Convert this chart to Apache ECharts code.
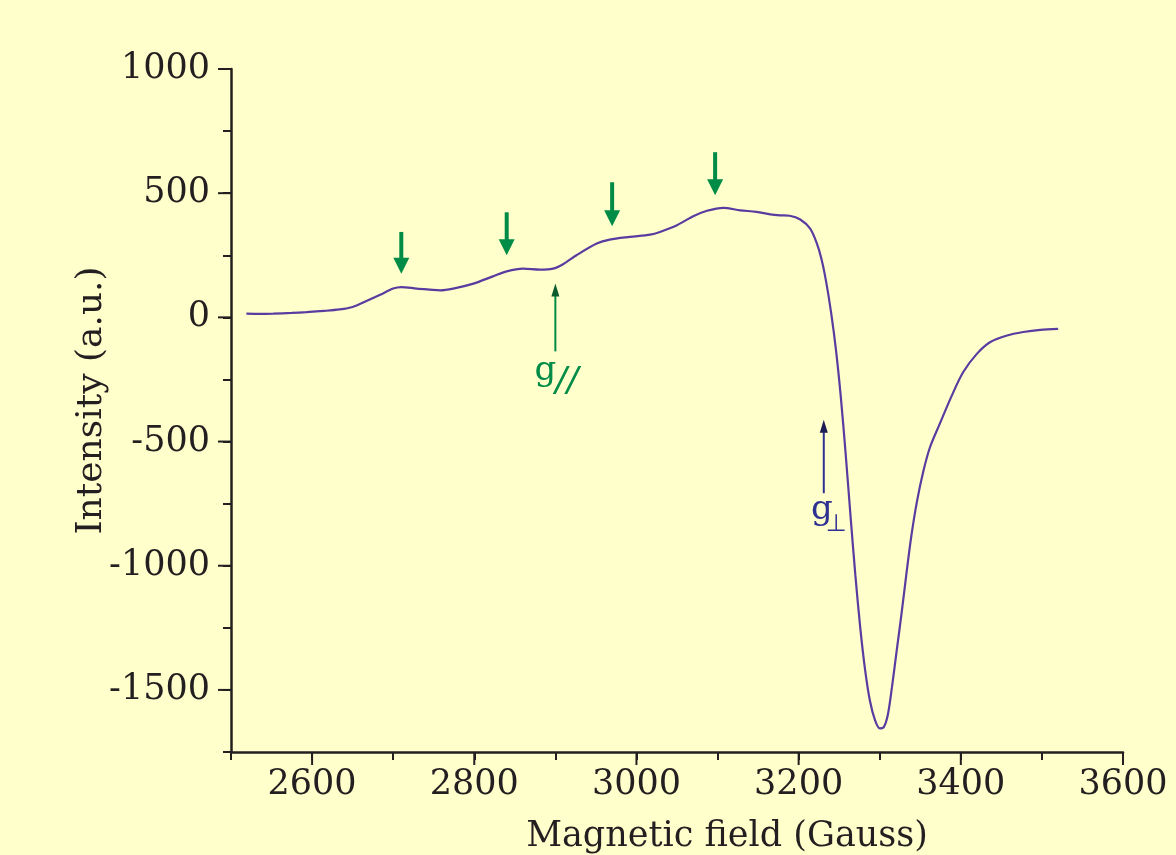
<!DOCTYPE html>
<html>
<head>
<meta charset="utf-8">
<script src="https://cdn.jsdelivr.net/npm/echarts@6/dist/echarts.min.js"></script>
<style>
html,body{margin:0;padding:0;background:#ffffcc;}
#chart{width:1176px;height:855px;}
</style>
</head>
<body>
<div id="chart"></div>
<script>
// Magnetic field (Gauss)
const field = [2519,2535,2552,2575,2593,2615,2634,2650,2667,2684,2700,2710,2729,2745,2758,2774,2799,2823,2840,2860,2881,2897,2910,2926,2951,2967,2992,3017,3029,3050,3070,3087,3107,3128,3148,3165,3177,3189,3202,3214,3222,3228,3234,3240,3246,3252,3258,3264,3270,3276,3282,3288,3294,3300,3305,3310,3315,3321,3327,3333,3339,3346,3354,3362,3374,3389,3403,3420,3436,3457,3477,3498,3520];
// Intensity (a.u.)
const intensity = [15,14,15,18,21,26,32,42,66,91,116,122,116,112,109,116,136,165,185,196,192,196,215,250,297,313,324,333,344,371,407,429,441,431,425,415,411,409,394,358,302,237,142,20,-130,-320,-550,-800,-1040,-1250,-1420,-1545,-1620,-1655,-1650,-1600,-1491,-1340,-1190,-1030,-880,-740,-617,-523,-429,-314,-220,-146,-100,-73,-59,-50,-46];

const xMajorTicks = [2600,2800,3000,3200,3400,3600];
const yMajorTicks = [-1500,-1000,-500,0,500,1000];

// hyperfine arrows (field, tail intensity, tip intensity)
const hfArrowX = [2710,2840,2970,3097];
const hfArrowTail = [344,423,544,665];
const hfArrowTip = [176,250,367,492];

// g-parallel marker
const gParX = [2900];
const gParTail = [-137];
const gParTip = [136];

// g-perpendicular marker
const gPerX = [3231];
const gPerTail = [-708];
const gPerTip = [-412];

const X_MIN = 2500, X_MAX = 3600, Y_MIN = -1750, Y_MAX = 1000;
const INK = '#231f20';
const FONT = 'DejaVu Serif';

const chart = echarts.init(document.getElementById('chart'), null, {renderer:'canvas'});

function arrowItem(color, headColor, shaftW, headW, headL, labelFn) {
  return function (params, api) {
    const x = api.value(0), tail = api.value(1), tip = api.value(2);
    const pT = api.coord([x, tail]);
    const pH = api.coord([x, tip]);
    const d = pH[1] > pT[1] ? 1 : -1;
    const baseY = pH[1] - d * headL;
    const children = [
      {type:'line', shape:{x1:pT[0], y1:pT[1], x2:pH[0], y2:baseY + d*1}, style:{stroke:color, lineWidth:shaftW}},
      {type:'polygon', shape:{points:[[pH[0]-headW/2, baseY],[pH[0]+headW/2, baseY],[pH[0], pH[1]]]}, style:{fill:headColor}}
    ];
    if (labelFn) labelFn(pT, children);
    return {type:'group', children};
  };
}

const option = {
  backgroundColor:'#ffffcc',
  animation:false,
  grid:{left:231, right:53, top:69, bottom:103, containLabel:false, outerBoundsMode:'none'},
  xAxis:{
    type:'value', min:X_MIN, max:X_MAX, interval:100,
    name:'Magnetic field (Gauss)', nameLocation:'middle', nameGap:67, nameMoveOverlap:false,
    nameTextStyle:{fontFamily:FONT, fontSize:35, color:INK, padding:[0,0,0,100]},
    axisLine:{onZero:false, lineStyle:{color:INK, width:2.5}},
    axisTick:{show:true, length:8, lineStyle:{color:INK, width:2}},
    axisLabel:{fontFamily:FONT, fontSize:35, color:INK, margin:15,
      formatter:function(v){return v % 200 === 0 ? String(v) : '';}},
    splitLine:{show:false}
  },
  yAxis:{
    type:'value', min:Y_MIN, max:Y_MAX, interval:250,
    name:'Intensity (a.u.)', nameLocation:'middle', nameGap:121, nameMoveOverlap:false,
    nameTextStyle:{fontFamily:FONT, fontSize:36, color:INK, padding:[0,0,0,20]},
    axisLine:{onZero:false, lineStyle:{color:INK, width:2.5}},
    axisTick:{show:true, length:8, lineStyle:{color:INK, width:2}},
    axisLabel:{fontFamily:FONT, fontSize:35, color:INK, margin:21,
      formatter:function(v){return v % 500 === 0 ? String(v) : '';}},
    splitLine:{show:false}
  },
  series:[
    {
      type:'line', data: field.map((f,i)=>[f, intensity[i]]),
      showSymbol:false, smooth:0.3, lineStyle:{color:'#5a3ca0', width:2.2}, z:3
    },
    {
      type:'custom', clip:false, silent:true, z:4,
      data: xMajorTicks.map(v=>[v]),
      renderItem:function(params, api){
        const p = api.coord([api.value(0), Y_MIN]);
        return {type:'line', shape:{x1:p[0], y1:p[1], x2:p[0], y2:p[1]+13}, style:{stroke:INK, lineWidth:2}};
      }
    },
    {
      type:'custom', clip:false, silent:true, z:4,
      data: yMajorTicks.map(v=>[v]),
      renderItem:function(params, api){
        const p = api.coord([X_MIN, api.value(0)]);
        return {type:'line', shape:{x1:p[0]-13, y1:p[1], x2:p[0], y2:p[1]}, style:{stroke:INK, lineWidth:2}};
      }
    },
    {
      type:'custom', clip:false, silent:true, z:5,
      data: hfArrowX.map((x,i)=>[x, hfArrowTail[i], hfArrowTip[i]]),
      renderItem: arrowItem('#008c46', '#008c46', 4, 16, 16, null)
    },
    {
      type:'custom', clip:false, silent:true, z:5,
      data: gParX.map((x,i)=>[x, gParTail[i], gParTip[i]]),
      renderItem: arrowItem('#008c46', '#0b5a2e', 2, 8, 13, function(p, ch){
        ch.push({type:'text', style:{text:'g', x:p[0]+1, y:p[1]+3, align:'right', verticalAlign:'top',
          font:'34px "DejaVu Serif"', fill:'#008c46'}});
        ch.push({type:'text', style:{text:'//', x:p[0], y:p[1]+14, align:'left', verticalAlign:'top',
          font:'italic 34px "DejaVu Sans"', fill:'#008c46'}});
      })
    },
    {
      type:'custom', clip:false, silent:true, z:5,
      data: gPerX.map((x,i)=>[x, gPerTail[i], gPerTip[i]]),
      renderItem: arrowItem('#2e3192', '#1c1d55', 2, 8, 13, function(p, ch){
        ch.push({type:'text', style:{text:'g', x:p[0]+9, y:p[1], align:'right', verticalAlign:'top',
          font:'34px "DejaVu Serif"', fill:'#2e3192'}});
        ch.push({type:'text', style:{text:'\u22A5', x:p[0]+2, y:p[1]+20, align:'left', verticalAlign:'top',
          font:'24px "DejaVu Sans"', fill:'#2e3192'}});
      })
    }
  ]
};
chart.setOption(option);
</script>
</body>
</html>
